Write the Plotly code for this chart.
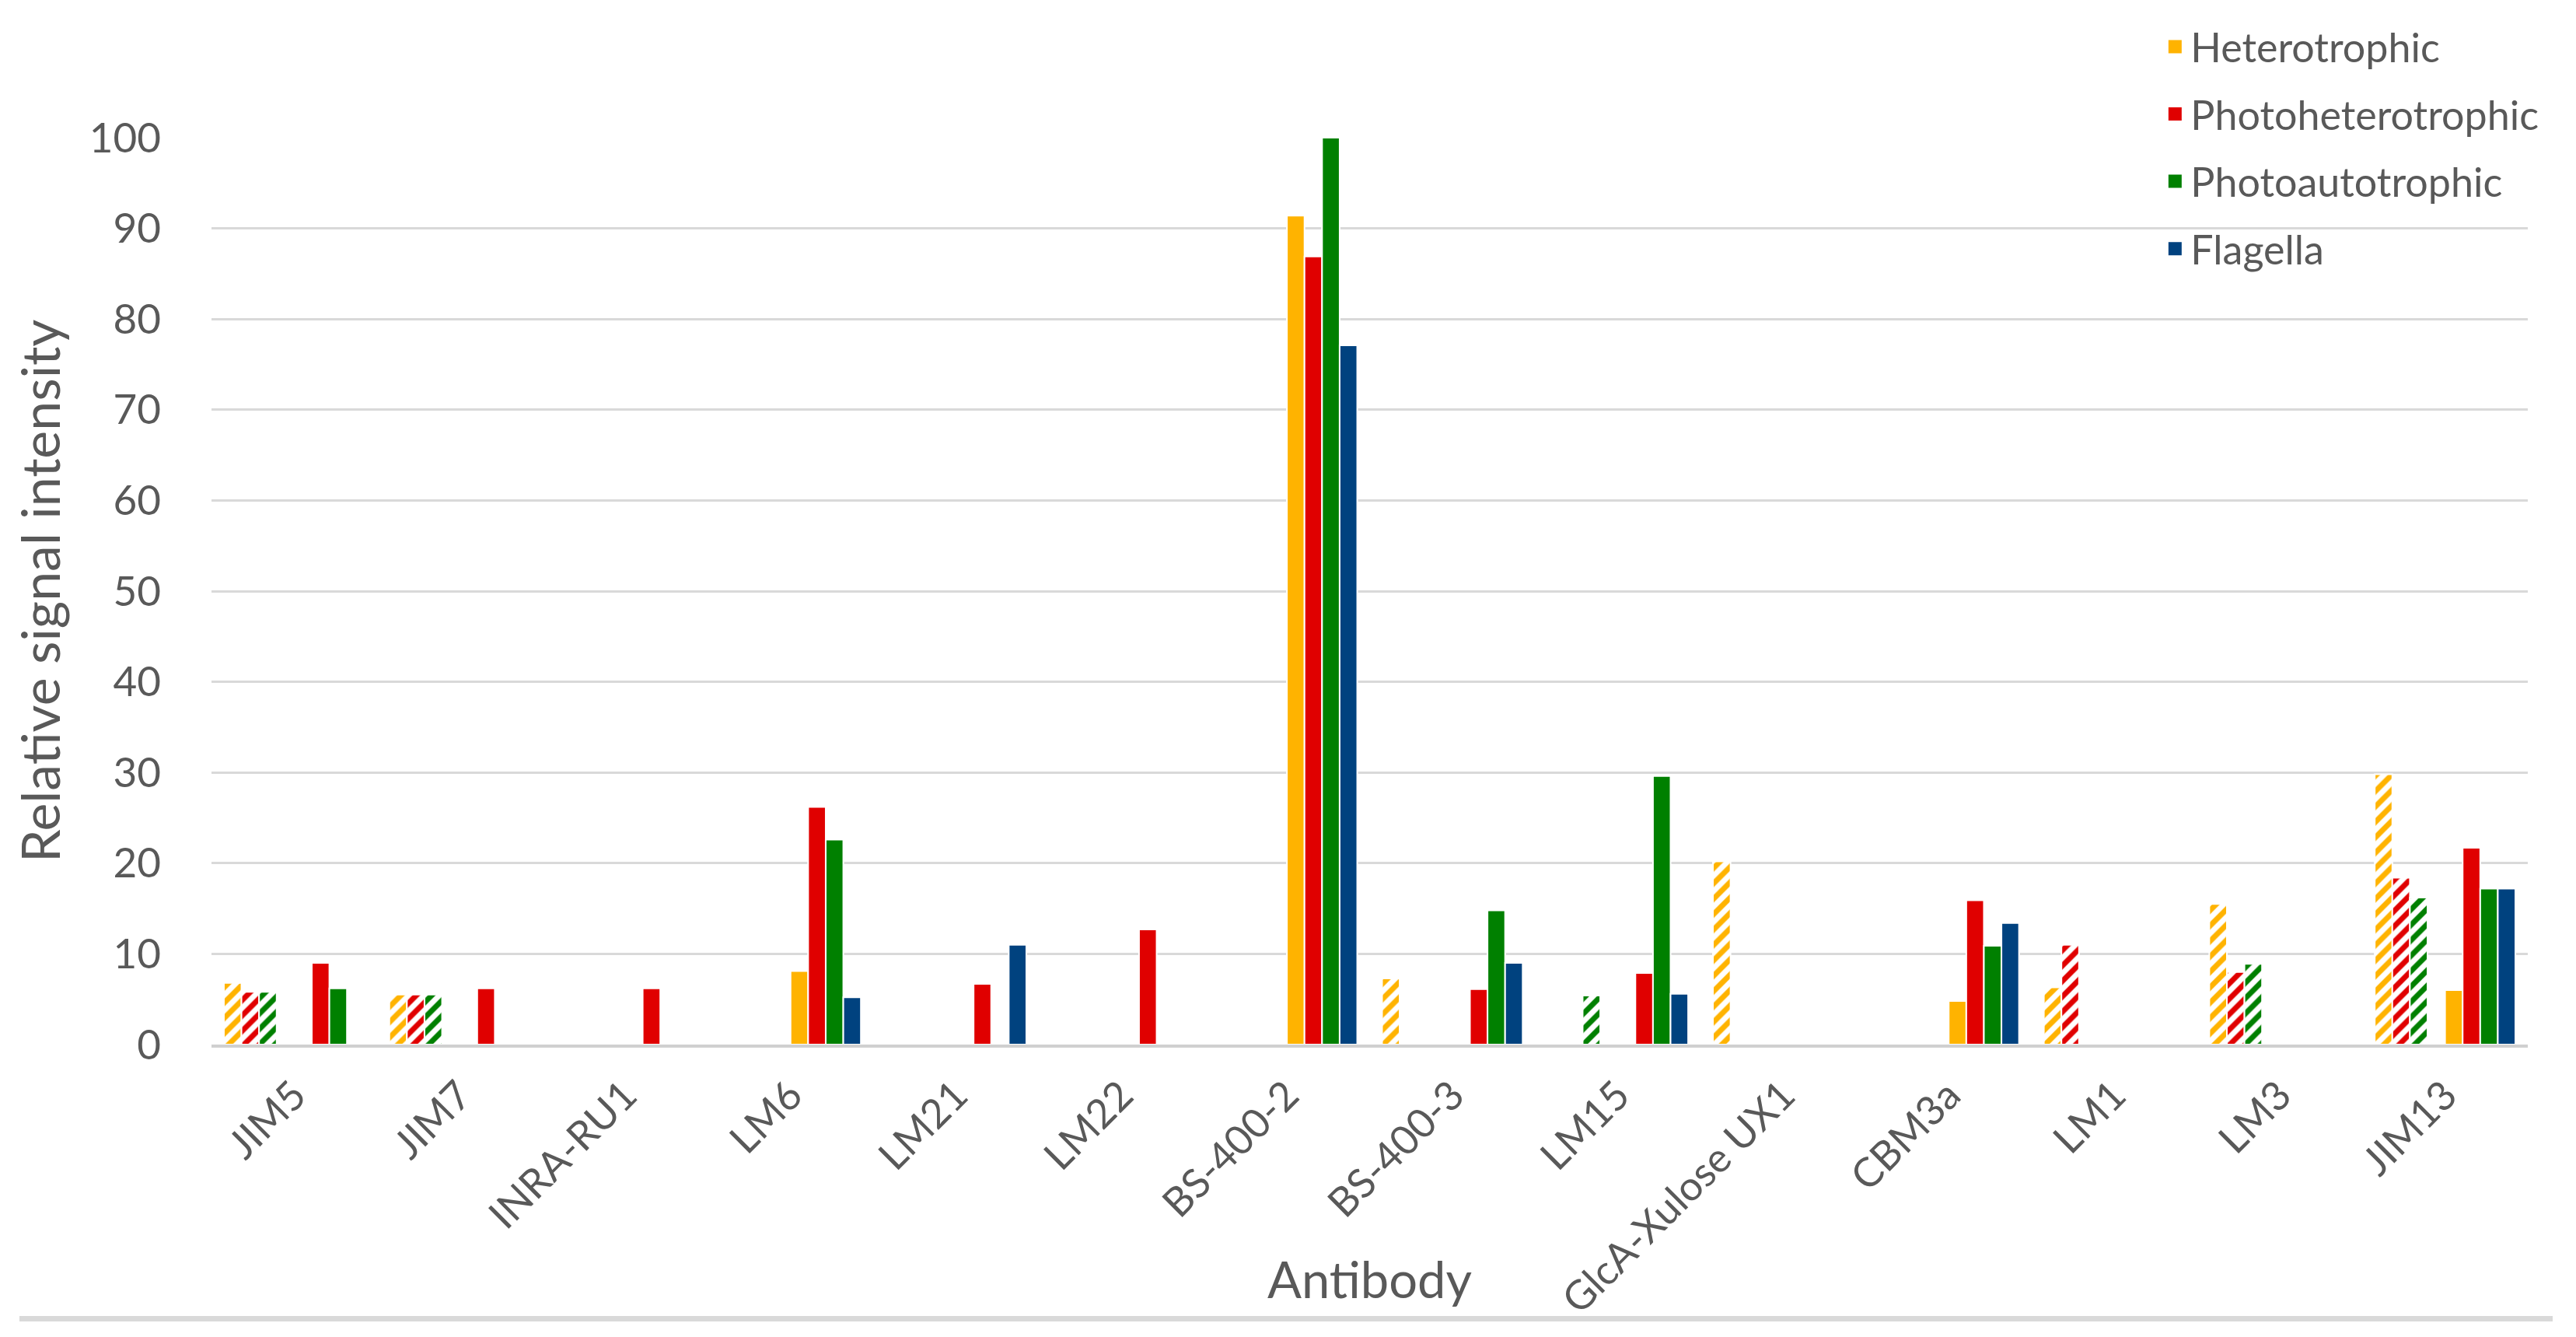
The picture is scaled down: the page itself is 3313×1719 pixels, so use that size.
import plotly.graph_objects as go

antibodies = ["JIM5", "JIM7", "INRA-RU1", "LM6", "LM21", "LM22", "BS-400-2", "BS-400-3",
              "LM15", "GlcA-Xulose UX1", "CBM3a", "LM1", "LM3", "JIM13"]

series_names = ["Heterotrophic", "Photoheterotrophic", "Photoautotrophic", "Flagella"]
colors = ["#FFB300", "#E00000", "#008000", "#00427F"]

# hatched bars (first fraction)
hetero_hatched = [6.8, 5.5, None, None, None, None, None, 7.3, None, 20.2, None, 6.3, 15.5, 29.8]
photohet_hatched = [5.8, 5.5, None, None, None, None, None, None, None, None, None, 11.0, 8.0, 18.4]
photoaut_hatched = [5.8, 5.5, None, None, None, None, None, None, 5.4, None, None, None, 8.9, 16.2]
flagella_hatched = [None] * 14

# solid bars (second fraction)
hetero_solid = [None, None, None, 8.1, None, None, 91.4, None, None, None, 4.8, None, None, 6.0]
photohet_solid = [9.0, 6.2, 6.2, 26.2, 6.7, 12.7, 86.9, 6.1, 7.9, None, 15.9, None, None, 21.7]
photoaut_solid = [6.2, None, None, 22.6, None, None, 100.0, 14.8, 29.6, None, 10.9, None, None, 17.2]
flagella_solid = [None, None, None, 5.2, 11.0, None, 77.1, 9.0, 5.6, None, 13.4, None, None, 17.2]

y_ticks = [0, 10, 20, 30, 40, 50, 60, 70, 80, 90, 100]

hatched = [hetero_hatched, photohet_hatched, photoaut_hatched, flagella_hatched]
solid = [hetero_solid, photohet_solid, photoaut_solid, flagella_solid]

FONT = "Lato"
TXT = "#595959"

fig = go.Figure()
for i, (name, col, vals) in enumerate(zip(series_names, colors, hatched)):
    fig.add_trace(go.Bar(
        x=antibodies, y=vals, name=name + " (hatched)", showlegend=False,
        offsetgroup="h%d" % i,
        marker=dict(color=col, line=dict(color="white", width=2),
                    pattern=dict(shape="/", fgcolor=col, bgcolor="white",
                                 size=14, solidity=0.5, fillmode="replace")),
    ))
for i, (name, col, vals) in enumerate(zip(series_names, colors, solid)):
    fig.add_trace(go.Bar(
        x=antibodies, y=vals, name=name, showlegend=False,
        offsetgroup="s%d" % i,
        marker=dict(color=col, line=dict(color="white", width=2)),
    ))
# legend entries (same slot as the solid series, no data of their own)
for i, (name, col) in enumerate(zip(series_names, colors)):
    fig.add_trace(go.Bar(
        x=antibodies, y=[None] * len(antibodies), name=name, showlegend=True,
        legendgroup=name, offsetgroup="s%d" % i, hoverinfo="skip",
        marker=dict(color=col, line=dict(color=col, width=16)),
    ))

fig.update_layout(
    width=3313, height=1719,
    margin=dict(l=264, r=70, t=167, b=384),
    paper_bgcolor="white", plot_bgcolor="white",
    barmode="group", bargap=0.15, bargroupgap=0.0,
    font=dict(family=FONT, color=TXT),
    legend=dict(
        x=0.841, y=1.135, xanchor="left", yanchor="top",
        bgcolor="rgba(0,0,0,0)", font=dict(size=52, family=FONT, color=TXT),
        tracegroupgap=16, itemwidth=30,
    ),
    xaxis=dict(
        tickangle=-45, tickfont=dict(size=52, family=FONT, color=TXT),
        showgrid=False, showline=True, linecolor="#d0d0d0", linewidth=4,
        ticks="", ticklabelstandoff=10, automargin=False,
    ),
    yaxis=dict(
        range=[0, 100], tickvals=y_ticks, showgrid=True, gridcolor="#d9d9d9", gridwidth=3,
        zeroline=False, showline=False, ticks="", automargin=False,
        tickfont=dict(size=53, family=FONT, color=TXT), ticklabelstandoff=64,
    ),
    annotations=[
        dict(text="Antibody", xref="paper", yref="paper", x=0.5, y=-(1637 - 1335) / 1168,
             xanchor="center", yanchor="middle", showarrow=False,
             font=dict(size=65, family=FONT, color=TXT)),
        dict(text="Relative signal intensity", xref="paper", yref="paper",
             x=(42 - 264) / 2979, y=0.5, xanchor="center", yanchor="middle",
             textangle=-90, showarrow=False,
             font=dict(size=68, family=FONT, color=TXT)),
    ],
    shapes=[
        # white legend box hiding the grid behind the legend
        dict(type="rect", xref="paper", yref="paper", layer="between",
             x0=(2645 - 264) / 2979, x1=1.03, y0=0.86, y1=1.15,
             fillcolor="white", line=dict(width=0)),
        dict(type="line", xref="paper", yref="paper",
             x0=(17 - 264) / 2979, x1=(3275 - 264) / 2979,
             y0=-(1688 - 1335) / 1168, y1=-(1688 - 1335) / 1168,
             line=dict(color="#d9d9d9", width=7)),
    ],
)

fig.write_html("out.html")
